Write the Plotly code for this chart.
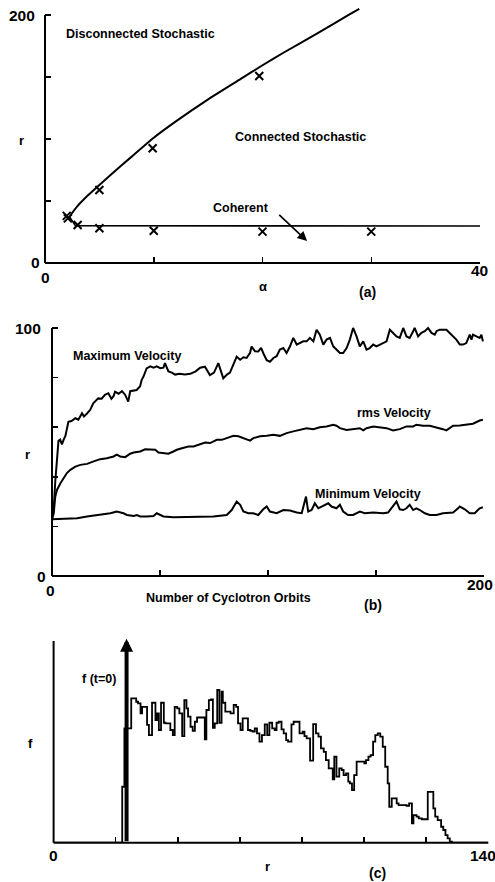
import plotly.graph_objects as go

W, H = 495, 882

# ---------------- Panel (a): stability diagram ----------------
boundary_alpha = [2.3, 3, 4, 5, 6, 8, 10, 12, 15, 18, 20, 22, 25, 28, 28.9]
boundary_r = [38, 46, 55, 63, 70.8, 86, 101, 114, 132, 148.5, 159.5, 170, 185, 200.5, 205]
coherent_alpha = [2.2, 2.8, 40]
coherent_r = [38, 30, 29.8]
cross_alpha = [2.0, 2.1, 3.0, 5.0, 5.0, 9.9, 10.0, 19.7, 20.0, 30.0]
cross_r = [38, 36, 30.6, 28, 58.9, 92.5, 26, 150.8, 25.3, 25.3]
a_xticks = [10, 20, 30, 40]
a_yticks = [50, 100, 150, 200]

# ---------------- Panel (b): velocities vs orbits ----------------
max_vel = [
    (0, 22.9), (0.8, 27), (1.5, 38), (2.2, 48), (3.0, 54.5), (3.8, 55), (4.6, 53), (5.4, 55),
    (6.2, 56.5), (7.6, 62.2), (9.0, 62.5), (10.8, 63.6), (12.2, 63), (13.9, 65.6), (14.8, 64.3),
    (16.2, 65.5), (17.7, 67), (19.1, 69.6), (20.5, 71), (21.4, 71.6), (23.0, 71.5), (24.5, 73),
    (26.1, 73.7), (27.5, 71.5), (28.5, 72.5), (29.2, 74.3), (30.8, 73.5), (32.4, 74.5), (33.9, 73),
    (35.3, 70.3), (36.2, 74.5), (37.8, 74.8), (39.2, 75), (40.8, 76.5), (41.5, 79), (42.4, 80.5),
    (43.8, 83.7), (45.5, 84.5), (47.0, 84), (48.5, 84.5), (50.1, 83.8), (51.6, 84), (52.3, 85.8),
    (53.9, 82.5), (55.5, 82), (57.0, 81.2), (59.0, 81.5), (61.5, 81.2), (64.0, 81.5), (66.5, 82.5),
    (68.6, 84), (70.8, 84.4), (73.1, 81), (75.0, 82), (77.0, 85.8), (79.3, 79.7), (81.0, 81.2),
    (82.4, 82), (84.0, 85.2), (85.5, 88.4), (87.1, 87.2), (88.6, 88.2), (90.1, 87.9), (91.7, 90),
    (92.4, 92.5), (94.0, 90.6), (95.5, 90.5), (96.8, 92), (98.0, 89.5), (99.4, 87), (100.9, 86.4),
    (102.5, 87.9), (104.0, 88.6), (105.5, 91.3), (107.1, 91.9), (108.6, 89.9), (110.2, 92.6),
    (111.7, 96.0), (113.3, 93.3), (114.8, 93.9), (116.3, 94.6), (117.9, 94.6), (119.4, 96.0),
    (121.0, 94.6), (122.5, 99.3), (124.0, 97.3), (125.6, 93.3), (127.1, 95.3), (128.7, 96.0),
    (130.2, 92.6), (131.7, 91.3), (133.3, 89.9), (134.8, 89.9), (136.4, 91.9), (137.9, 95.3),
    (139.4, 100.0), (141.0, 96.6), (142.5, 92.6), (144.1, 94.6), (145.6, 91.3), (147.1, 91.9),
    (148.7, 93.3), (150.2, 92.6), (151.8, 93.3), (153.3, 93.9), (154.9, 94.6), (156.4, 99.3),
    (157.9, 98.0), (159.5, 96.6), (161.0, 96.0), (162.6, 100.0), (164.1, 96.6), (165.6, 96.0),
    (167.2, 98.7), (167.9, 100.0), (169.5, 96.6), (171.0, 98.0), (172.6, 98.7), (174.1, 100.0),
    (175.7, 98.0), (177.2, 97.3), (178.0, 98.7), (179.5, 99.3), (181.0, 99.3), (182.6, 99.3),
    (184.1, 98.0), (185.7, 96.6), (187.2, 95.3), (188.8, 93.3), (190.3, 93.3), (191.8, 93.9),
    (193.4, 97.3), (194.2, 95.3), (194.9, 97.3), (196.5, 96.6), (198.0, 96.0), (198.8, 97.3),
    (199.5, 94.6),
]
rms_vel = [
    (0, 22.9), (0.8, 25.3), (1.5, 32.0), (2.3, 34.7), (3.9, 37.4), (5.4, 39.4), (6.9, 41.5),
    (8.5, 42.8), (10.8, 44.1), (13.1, 44.8), (16.2, 45.2), (19.3, 46.2), (22.3, 47.1), (25.4, 47.5),
    (28.5, 48.2), (30.0, 48.9), (31.6, 48.2), (33.9, 47.9), (36.2, 49.3), (37.8, 49.8), (40.8, 50.2),
    (43.1, 51.1), (45.5, 50.9), (47.8, 50.9), (49.3, 49.8), (51.6, 49.5), (53.9, 49.3), (56.2, 50.2),
    (57.8, 50.9), (60.1, 51.5), (63.2, 52.2), (65.5, 52.2), (68.6, 53.3), (70.9, 53.8), (73.2, 53.6),
    (76.3, 54.9), (78.6, 54.9), (80.9, 55.6), (84.0, 56.5), (86.3, 56.3), (88.6, 55.6), (91.7, 54.6),
    (93.2, 55.6), (96.3, 56.3), (99.4, 56.5), (102.5, 56.9), (105.5, 56.5), (108.6, 57.6),
    (111.7, 58.3), (114.8, 58.9), (117.9, 59.6), (121.0, 59.2), (124.0, 60.0), (127.1, 60.3),
    (130.2, 61.0), (131.7, 60.6), (133.3, 59.6), (136.4, 58.9), (139.4, 59.2), (142.5, 59.6),
    (144.1, 58.7), (145.6, 59.6), (148.7, 60.3), (151.8, 60.0), (154.9, 59.6), (157.9, 58.7),
    (161.0, 59.2), (164.1, 60.3), (167.2, 60.3), (168.7, 61.0), (171.8, 60.6), (174.9, 60.6),
    (178.0, 60.0), (181.0, 59.2), (182.6, 58.7), (184.1, 59.6), (185.7, 60.6), (188.8, 60.7),
    (191.8, 61.0), (194.9, 61.4), (198.0, 62.7), (199.5, 63.0),
]
min_vel = [
    (0, 22.9), (11.6, 23.3), (16.2, 24.0), (22.3, 24.6), (27.0, 25.3), (30.0, 26.0), (33.1, 25.3),
    (34.7, 24.6), (37.8, 24.2), (39.3, 24.6), (40.8, 24.0), (43.9, 24.0), (47.0, 24.2), (48.5, 25.3),
    (50.1, 24.6), (51.6, 24.0), (56.2, 23.7), (62.4, 23.7), (68.6, 23.7), (74.7, 24.0), (80.9, 24.6),
    (83.2, 26.6), (85.5, 30.0), (87.1, 28.7), (88.6, 26.0), (90.9, 25.3), (93.2, 25.3), (95.5, 24.6),
    (97.8, 26.9), (99.4, 28.0), (100.9, 26.0), (104.0, 25.3), (107.1, 26.6), (110.2, 26.4),
    (113.3, 25.6), (115.6, 25.3), (116.6, 28.7), (117.6, 32.0), (118.6, 26.0), (120.2, 26.6),
    (121.7, 29.3), (123.3, 27.3), (124.8, 28.0), (126.3, 28.7), (127.9, 29.3), (129.4, 28.0),
    (131.7, 27.3), (133.3, 28.7), (134.8, 26.0), (137.1, 24.6), (139.4, 24.6), (142.5, 26.0),
    (144.8, 25.3), (148.7, 25.6), (153.3, 25.3), (155.6, 25.6), (157.9, 28.0), (159.5, 30.0),
    (161.0, 26.9), (162.6, 26.6), (164.1, 27.3), (165.6, 28.7), (167.2, 26.6), (168.7, 27.3),
    (170.3, 26.6), (172.6, 25.3), (174.9, 24.6), (178.0, 24.6), (181.0, 25.3), (185.7, 25.6),
    (188.0, 27.3), (188.8, 28.0), (191.1, 26.9), (193.4, 25.3), (195.7, 25.3), (198.0, 27.3),
    (199.5, 27.7),
]
b_xticks = [50, 100, 150, 200]
b_yticks = [20, 40, 60, 80, 100]

# ---------------- Panel (c): distribution histogram ----------------
# (left edge of bin, height)
hist_bins = [
    (0, 0), (22.1, 27.7), (22.8, 56.6), (25.0, 71.5), (26.6, 69.8), (27.2, 69.0), (28.0, 64.0),
    (28.5, 67.3), (30.1, 58.3), (30.7, 53.3), (31.7, 69.3), (32.8, 60.7), (33.3, 64.0),
    (33.9, 55.8), (34.6, 69.3), (35.5, 59.4), (36.0, 59.1), (37.6, 55.8), (38.4, 53.3),
    (39.0, 67.3), (39.8, 66.5), (40.5, 64.0), (41.4, 52.8), (42.1, 70.6), (42.8, 66.5),
    (43.3, 62.4), (44.1, 57.4), (44.8, 55.4), (45.5, 59.9), (46.2, 62.0), (48.7, 51.2),
    (49.2, 65.7), (50.0, 70.6), (50.7, 71.0), (51.3, 56.9), (51.9, 59.1), (52.7, 75.6),
    (53.4, 59.4), (54.1, 74.8), (54.5, 69.3), (55.3, 64.9), (57.0, 64.0), (58.0, 68.2),
    (58.8, 67.3), (59.4, 59.1), (60.2, 55.8), (60.9, 61.6), (62.6, 55.8), (63.4, 55.4),
    (64.1, 55.0), (64.8, 56.6), (65.5, 54.1), (66.3, 50.0), (67.1, 53.3), (68.0, 58.6),
    (68.8, 53.3), (69.5, 59.4), (70.4, 56.6), (71.2, 55.8), (71.8, 59.4), (72.5, 59.9),
    (73.4, 56.1), (74.1, 54.1), (74.9, 50.8), (75.5, 50.0), (76.6, 58.6), (77.3, 59.9),
    (79.2, 54.1), (80.2, 55.0), (80.8, 52.8), (81.5, 51.7), (82.6, 40.6), (83.6, 58.7),
    (84.5, 54.1), (85.3, 52.5), (86.1, 46.7), (87.0, 45.0), (87.7, 40.9), (88.6, 36.8),
    (89.9, 31.4), (90.4, 42.6), (91.1, 32.7), (92.0, 36.8), (92.8, 36.0), (93.4, 33.5),
    (94.2, 34.3), (94.9, 30.2), (95.4, 29.4), (96.1, 26.1), (96.8, 33.5), (97.6, 40.1),
    (100.1, 39.3), (100.6, 40.9), (101.4, 42.6), (102.1, 43.4), (102.9, 50.0), (103.6, 53.3),
    (104.4, 54.1), (105.2, 52.5), (106.0, 47.5), (106.8, 37.6), (107.6, 29.4), (108.1, 17.8),
    (108.9, 21.9), (110.5, 19.5), (111.1, 18.6), (113.7, 18.2), (114.5, 19.5), (115.4, 9.6),
    (115.9, 13.7), (116.9, 12.9), (117.6, 12.0), (118.6, 11.6), (120.5, 25.2), (122.3, 17.0),
    (122.9, 12.9), (123.7, 11.2), (124.8, 7.9), (125.5, 6.3), (126.2, 3.8), (126.9, 2.1),
    (127.6, 0.5), (128.3, 0), (140, 0),
]
delta_r = 23.5
delta_top = 101
c_xticks = [20, 40, 60, 80, 100, 120, 140]

# ---------------- figure ----------------
FONT = "Liberation Sans, Arial, sans-serif"
BLACK = "#000000"


def P(px, py):
    return px / W, 1 - py / H


fig = go.Figure()

# panel a
fig.add_trace(go.Scatter(x=boundary_alpha, y=boundary_r, mode="lines",
                         line=dict(color=BLACK, width=2, shape="spline", smoothing=0.6),
                         xaxis="x", yaxis="y", showlegend=False, hoverinfo="skip"))
fig.add_trace(go.Scatter(x=coherent_alpha, y=coherent_r, mode="lines", line=dict(color=BLACK, width=1.6),
                         xaxis="x", yaxis="y", showlegend=False, hoverinfo="skip"))
fig.add_trace(go.Scatter(x=cross_alpha, y=cross_r, mode="markers",
                         marker=dict(symbol="x-thin", size=8, line=dict(color=BLACK, width=2), color=BLACK),
                         xaxis="x", yaxis="y", showlegend=False, cliponaxis=False, hoverinfo="skip"))

# panel b
for series in (max_vel, rms_vel, min_vel):
    fig.add_trace(go.Scatter(x=[p[0] for p in series], y=[p[1] for p in series], mode="lines",
                             line=dict(color=BLACK, width=2), xaxis="x2", yaxis="y2",
                             showlegend=False, hoverinfo="skip"))

# panel c
fig.add_trace(go.Scatter(x=[b[0] for b in hist_bins], y=[b[1] for b in hist_bins], mode="lines",
                         line=dict(color=BLACK, width=1.8, shape="hv"), xaxis="x3", yaxis="y3",
                         showlegend=False, hoverinfo="skip"))

# axes geometry (pixel boxes)
A = dict(l=45, r=480, b=263, t=7)     # y range top 206.5
B = dict(l=52, r=484, b=576, t=323)   # y range top 102
C = dict(l=53.6, r=488.3, b=842.7, t=636.7)  # y range top 102


def dom_x(box):
    return [box["l"] / W, box["r"] / W]


def dom_y(box):
    return [1 - box["b"] / H, 1 - box["t"] / H]


common = dict(showgrid=False, zeroline=False, showline=False, ticks="inside", ticklen=6,
              tickwidth=1.5, tickcolor=BLACK, showticklabels=False, tickmode="array", fixedrange=True)

fig.update_layout(
    width=W, height=H, margin=dict(l=0, r=0, t=0, b=0),
    paper_bgcolor="white", plot_bgcolor="white",
    font=dict(family=FONT, color=BLACK, size=14),
    xaxis=dict(domain=dom_x(A), range=[0, 40], tickvals=a_xticks, anchor="y", **common),
    yaxis=dict(domain=dom_y(A), range=[0, 206.5], tickvals=a_yticks, anchor="x", **common),
    xaxis2=dict(domain=dom_x(B), range=[0, 200], tickvals=b_xticks, anchor="y2", **common),
    yaxis2=dict(domain=dom_y(B), range=[0, 102], tickvals=b_yticks, anchor="x2", **common),
    xaxis3=dict(domain=dom_x(C), range=[0, 140], tickvals=c_xticks, anchor="y3", **common),
    yaxis3=dict(domain=dom_y(C), range=[0, 102], tickvals=[], anchor="x3", **common),
)

# axis lines as paper shapes (so they stop at the last tick)
shapes = []
def axis_lines(box, ytop_px):
    x0, yb = P(box["l"], box["b"])
    x1, _ = P(box["r"], box["b"])
    _, yt = P(box["l"], ytop_px)
    shapes.append(dict(type="line", xref="paper", yref="paper", x0=x0, y0=yb, x1=x1, y1=yb,
                       line=dict(color=BLACK, width=2)))
    shapes.append(dict(type="line", xref="paper", yref="paper", x0=x0, y0=yb, x1=x0, y1=yt,
                       line=dict(color=BLACK, width=2)))

axis_lines(A, 15)
axis_lines(B, 328)
axis_lines(C, 641)
fig.update_layout(shapes=shapes)

ann = []
def txt(text, x, y, xref="paper", yref="paper", size=12.5, xanchor="center"):
    ann.append(dict(text="<b>%s</b>" % text, x=x, y=y, xref=xref, yref=yref, showarrow=False,
                    font=dict(family=FONT, size=size, color=BLACK), xanchor=xanchor, yanchor="middle"))

def ptxt(text, px, py, size=12.5, xanchor="center"):
    x, y = P(px, py)
    txt(text, x, y, size=size, xanchor=xanchor)

NUM = 15.5
# panel a labels
txt("Disconnected Stochastic", 8.8, 185, "x", "y")
txt("Connected Stochastic", 23.5, 101.6, "x", "y")
txt("Coherent", 18.0, 44.4, "x", "y")
ann.append(dict(x=24.1, y=17.7, ax=21.4, ay=40, xref="x", yref="y", axref="x", ayref="y",
                showarrow=True, arrowhead=2, arrowsize=1.2, arrowwidth=1.6, arrowcolor=BLACK, text=""))
ptxt("r", 21, 140, size=13)
ptxt("α", 263, 286, size=13)
ptxt("(a)", 367, 292, size=14)
ptxt("200", 22, 15, size=NUM)
ptxt("0", 35, 263, size=NUM)
ptxt("0", 45.5, 277, size=NUM)
ptxt("40", 479, 270, size=NUM)

# panel b labels
txt("Maximum Velocity", 34.7, 88.7, "x2", "y2")
txt("rms Velocity", 158.3, 65.7, "x2", "y2")
txt("Minimum Velocity", 146.3, 33.1, "x2", "y2")
ptxt("r", 27, 454, size=13)
ptxt("Number of Cyclotron Orbits", 228, 598)
ptxt("(b)", 373, 605, size=14)
ptxt("100", 27.5, 328, size=NUM)
ptxt("0", 41, 576, size=NUM)
ptxt("0", 50, 590, size=NUM)
ptxt("200", 480, 584, size=NUM)

# panel c labels
ann.append(dict(x=delta_r, y=delta_top, ax=delta_r, ay=0, xref="x3", yref="y3", axref="x3", ayref="y3",
                showarrow=True, arrowhead=2, arrowsize=0.65, arrowwidth=4, arrowcolor=BLACK, text="",
                standoff=0, startstandoff=0))
txt("f (t=0)", 20.6, 81, "x3", "y3", xanchor="right")
ptxt("f", 30, 743, size=13)
ptxt("r", 267, 866, size=13)
ptxt("(c)", 377, 873, size=14)
ptxt("0", 53, 855, size=NUM)
ptxt("140", 482.5, 855, size=NUM)

fig.update_layout(annotations=ann)
# remove the default page margin so the 495x882 figure fills the window exactly
fig.write_html("out.html", config={"displayModeBar": False, "staticPlot": True},
               post_script="document.body.style.margin='0';document.body.style.overflow='hidden';")
